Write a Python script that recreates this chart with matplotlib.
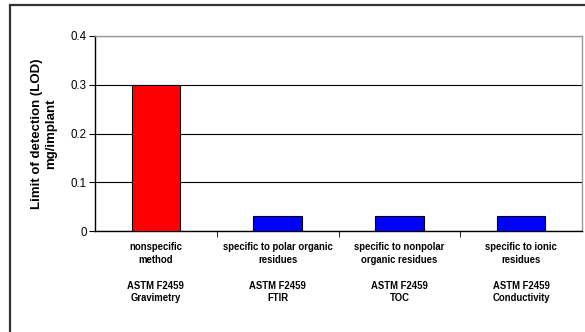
import matplotlib.pyplot as plt
from matplotlib.patches import Rectangle
import numpy as np

# data
methods = ["nonspecific\nmethod", "specific to polar organic\nresidues",
           "specific to nonpolar\norganic residues", "specific to ionic\nresidues"]
standards = ["ASTM F2459\nGravimetry", "ASTM F2459\nFTIR",
             "ASTM F2459\nTOC", "ASTM F2459\nConductivity"]
lod = [0.3, 0.03, 0.03, 0.03]
bar_colors = ["#ff0000", "#0000ff", "#0000ff", "#0000ff"]
yticks = [0, 0.1, 0.2, 0.3, 0.4]

plt.rcParams['font.family'] = ['Liberation Sans', 'DejaVu Sans']

W, H = 585, 332
fig = plt.figure(figsize=(W / 100, H / 100), dpi=100)

# outer chart frame (runs off the image on the right/bottom)
fig.patches.append(Rectangle((10 / W, -0.1), 2.0, 1 - 5 / H + 0.1,
                             transform=fig.transFigure, fill=False,
                             edgecolor="#333333", linewidth=1.6))

left, right, top, bottom = 95, 582, 36, 231
ax = fig.add_axes([left / W, 1 - bottom / H, (right - left) / W, (bottom - top) / H])

x = np.arange(len(lod))
ax.bar(x, lod, width=0.4, color=bar_colors, edgecolor="black", linewidth=0.8, zorder=3)

ax.set_xlim(-0.5, len(lod) - 0.5)
ax.set_ylim(0, 0.4)
ax.set_yticks(yticks)
ax.set_yticklabels(["0", "0.1", "0.2", "0.3", "0.4"], fontsize=8.3)
ax.yaxis.grid(True, color="black", linewidth=0.8, zorder=0)

labels = [m + "\n\n" + s for m, s in zip(methods, standards)]
ax.set_xticks(x)
ax.set_xticklabels(labels, fontsize=6.85, fontweight="bold", linespacing=1.35)
ax.tick_params(axis="x", length=0, pad=8)
ax.set_xticks(np.arange(0.5, len(lod) - 0.5, 1), minor=True)
ax.tick_params(axis="x", which="minor", length=4, direction="out", color="black")
ax.tick_params(axis="y", length=4, direction="out", pad=2)

for s in ["left", "bottom"]:
    ax.spines[s].set_color("black")
    ax.spines[s].set_linewidth(1.0)
for s in ["top", "right"]:
    ax.spines[s].set_color("#999999")
    ax.spines[s].set_linewidth(1.0)

ax.set_ylabel("Limit of detection (LOD)\nmg/implant", fontsize=9.5,
              fontweight="bold", labelpad=10)

fig.savefig("out.png", dpi=100)
